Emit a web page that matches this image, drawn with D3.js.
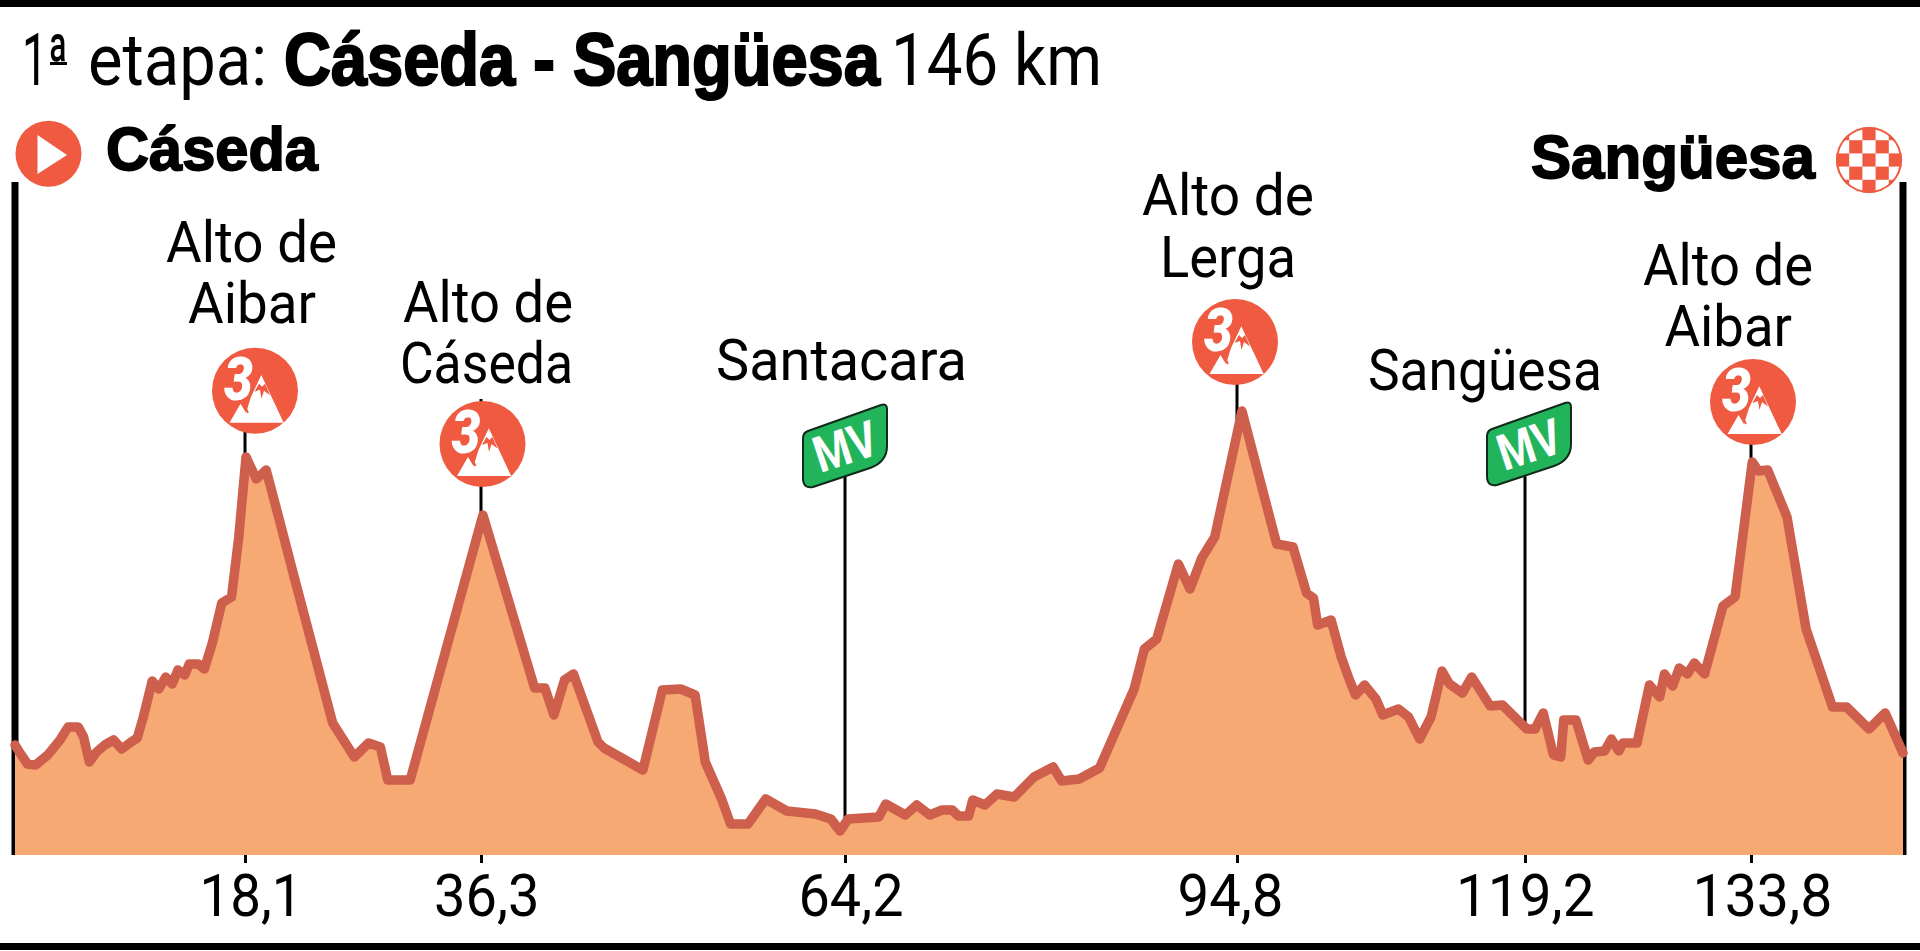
<!DOCTYPE html>
<html lang="es">
<head>
<meta charset="utf-8">
<script src="https://cdnjs.cloudflare.com/ajax/libs/d3/7.8.5/d3.min.js"></script>
<style>html,body{margin:0;padding:0;background:#fff;overflow:hidden}svg{display:block}text{font-family:Roboto,"Liberation Sans",sans-serif}</style>
</head>
<body>
<script>
// ---------- data ----------
const distanceKm = [0,0.5,0.98,1.62,2.58,3.54,4.18,4.98,5.4,5.85,6.42,7.06,7.76,8.4,9.14,9.62,10.1,10.8,11.32,11.86,12.37,12.82,13.36,13.71,14.42,14.9,15.53,16.27,17.04,17.61,18.18,18.97,19.73,20.61,21.87,23.44,24.86,26.53,27.63,28.54,29.11,30.84,36.45,40.41,41.2,41.89,42.7,43.39,45.27,45.73,48.71,50.2,51.61,52.71,53.49,54.74,55.43,56.77,58.12,59.74,61.93,63.12,63.82,64.45,66.84,67.38,68.91,69.8,70.82,71.77,72.57,73.05,73.85,74.17,75.12,76.07,77.41,78.95,80.45,81.11,82.48,84.07,86.77,87.57,88.53,90.22,91.13,92.05,93.06,95.22,98.16,99.55,100.69,101.28,101.63,102.77,103.63,104.33,104.84,105.61,106.57,107.16,108.48,109.34,110.27,111.24,112.17,112.8,113.9,114.69,116.25,117.28,119.32,119.85,120.38,121.04,121.51,121.7,122.49,123.28,123.68,124.34,124.78,125.26,125.52,126.44,127.24,127.9,128.21,128.74,129.16,129.69,130.14,130.8,131.99,132.77,133.9,134.39,135.14,136.69,138.22,140.34,141.47,143.27,144.57,146];
const elevation = [110,100,91,90,100,115,128,128,118,93,103,110,115,106,113,117,138,174,166,178,171,185,180,191,191,186,212,252,258,318,398,376,385,342,279,202,132,98,112,108,75,75,340,167,167,140,175,181,113,107,85,165,166,160,93,56,31,31,56,44,41,36,24,36,38,51,40,50,40,45,45,39,39,55,50,61,58,78,88,74,76,87,166,206,216,291,266,297,318,444,311,308,262,257,230,235,198,175,160,170,156,140,146,138,116,138,184,171,162,178,149,150,126,126,142,100,98,135,135,95,103,104,116,104,112,112,170,158,181,169,187,181,192,181,249,258,393,384,385,338,226,148,148,126,142,102];
const markedKm = [18.1,36.3,64.2,94.8,119.2,133.8];
const markedLabels = ["18,1","36,3","64,2","94,8","119,2","133,8"];
const climbKm = [18.1,36.3,94.8,133.8];
const climbNames = [["Alto de","Aibar"],["Alto de","Cáseda"],["Alto de","Lerga"],["Alto de","Aibar"]];
const climbCategory = ["3","3","3","3"];
const sprintKm = [64.2,119.2];
const sprintNames = ["Santacara","Sangüesa"];
const titleParts = ["1ª","etapa:","Cáseda - Sangüesa","146 km"];
const startName = "Cáseda";
const finishName = "Sangüesa";

// ---------- layout ----------
const W=1920,H=951,base=855;
const C={fill:"#f7a974",line:"#cd5f4c",red:"#ef5a41",green:"#22b45b",ink:"#000"};
const BOLD='"Liberation Sans Narrow","Liberation Sans",sans-serif';
const svg=d3.select("body").append("svg").attr("width",W).attr("height",H);
const x=d3.scaleLinear().domain([0,...markedKm,146]).range([15,245,481,845,1237,1525,1751,1903]);
const y=d3.scaleLinear().domain([0,500]).range([base,355]);
const pts=distanceKm.map((d,i)=>[d,elevation[i]]);

// place a text so that it fills [left,right] by horizontal scaling
function label(t,left,right,baseline,size,weight,extra){
  const e=svg.append("text").attr("font-size",size).attr("font-weight",weight).attr("fill",C.ink).text(t);
  if(extra)e.attr("stroke",C.ink).attr("stroke-width",extra).style("font-family",BOLD);
  const sx=(right-left)/e.node().getComputedTextLength();
  e.attr("transform",`translate(${left},${baseline}) scale(${sx},1)`);
  return e;
}
// frame bars
svg.append("rect").attr("x",0).attr("y",0).attr("width",W).attr("height",7).attr("fill",C.ink);
svg.append("rect").attr("x",0).attr("y",943).attr("width",W).attr("height",7).attr("fill",C.ink);

// title
label(titleParts[0],22,68,85,72,400);
svg.append("rect").attr("x",50).attr("y",62).attr("width",17).attr("height",3).attr("fill",C.ink);
label(titleParts[1],88,267,85,72,400);
label(titleParts[2],284,880,85,74,700,2.2);
label(titleParts[3],891,1102,85,72,400);

// start / finish posts
[15,1903].forEach(px=>svg.append("line").attr("x1",px).attr("x2",px).attr("y1",182).attr("y2",base).attr("stroke",C.ink).attr("stroke-width",7));

// leaders
const leaderTop=[400,399,340,402];
climbKm.forEach((k,i)=>svg.append("line").attr("x1",x(k)).attr("x2",x(k)).attr("y1",leaderTop[i]).attr("y2",base).attr("stroke",C.ink).attr("stroke-width",3));
const signTop=[470,468];
sprintKm.forEach((k,i)=>svg.append("line").attr("x1",x(k)).attr("x2",x(k)).attr("y1",signTop[i]).attr("y2",base).attr("stroke",C.ink).attr("stroke-width",3));

// profile
svg.append("path").datum(pts).attr("fill",C.fill)
  .attr("d",d3.area().x(d=>x(d[0])).y0(base).y1(d=>y(d[1])));
svg.append("path").datum(pts).attr("fill","none").attr("stroke",C.line).attr("stroke-width",9.5)
  .attr("stroke-linejoin","round").attr("stroke-linecap","round")
  .attr("d",d3.line().x(d=>x(d[0])).y(d=>y(d[1])));

// axis
const axis=d3.axisBottom(x).tickValues(markedKm).tickSize(8).tickSizeOuter(0).tickPadding(0).tickFormat((d,i)=>markedLabels[i]);
const ag=svg.append("g").attr("transform",`translate(0,${base})`).call(axis);
ag.select(".domain").remove();
ag.selectAll(".tick line").attr("stroke",C.ink).attr("stroke-width",3);
const tickBox=[[199,302],[433.5,539],[798,903],[1177,1283],[1455.5,1594],[1692,1832]];
ag.selectAll(".tick text").each(function(d,i){
  d3.select(this).attr("font-size",60).attr("fill",C.ink).attr("font-family",'Roboto,"Liberation Sans",sans-serif')
   .attr("text-anchor","start").attr("x",tickBox[i][0]-x(d)).attr("dy",0).attr("y",61)
   .attr("textLength",tickBox[i][1]-tickBox[i][0]).attr("lengthAdjust","spacingAndGlyphs");
});

// climb labels: one text per climb, one tspan per line
const climbBox=[[[166,337,262],[188,316,323]],[[403,573,322],[400,573,383]],[[1142,1314,215],[1160,1296,277]],[[1643,1813,285],[1664.5,1792,346]]];
climbNames.forEach((ls,i)=>{
  const t=svg.append("text").attr("font-size",58).attr("fill",C.ink);
  ls.forEach((s,j)=>{const b=climbBox[i][j];
    t.append("tspan").attr("x",b[0]).attr("y",b[2]).attr("textLength",b[1]-b[0]).attr("lengthAdjust","spacingAndGlyphs").text(s);});
});

// climb badges
const badgeC=[[255,390.7],[482.5,444],[1235,342],[1753,402]];
climbKm.forEach((k,i)=>{
  const g=svg.append("g").attr("transform",`translate(${badgeC[i][0]},${badgeC[i][1]})`);
  g.append("circle").attr("r",43).attr("fill",C.red);
  g.append("path").attr("fill","#fff").attr("d","M-25.5,32 L-14.5,13 L-9,22 L-4,6 L6.3,-15.7 L28.7,32 Z");
  g.append("path").attr("fill",C.red).attr("d","M4,-7 L-0.5,1 L5,-1 L6.5,8 L9,0 L15,4.5 L10,-7 L7,-4 Z");
  g.append("path").attr("fill","none").attr("stroke",C.red).attr("stroke-width",2).attr("d","M-12,12 L-7,22");
  g.append("text").attr("x",-31).attr("y",9).attr("font-size",60).attr("font-weight",900).attr("font-style","italic")
    .attr("fill","#fff").attr("textLength",29).attr("lengthAdjust","spacingAndGlyphs").attr("stroke",C.red).attr("stroke-width",3).attr("paint-order","stroke").text(climbCategory[i]);
});

// sprint labels and signs
const sprintBox=[[716,967,380],[1368,1602,390]];
sprintNames.forEach((t,i)=>label(t,sprintBox[i][0],sprintBox[i][1],sprintBox[i][2],58,400));
const signOffset=[[0,0],[684,-2]];
sprintKm.forEach((k,i)=>{
  const g=svg.append("g").attr("transform",`translate(${signOffset[i][0]},${signOffset[i][1]})`);
  g.append("path").attr("fill",C.green).attr("stroke","#10291a").attr("stroke-width",2)
   .attr("d","M803,438 Q803,433 808,431 L881,405 Q887,403 887,409 L887,446 Q887,462 870,468 L813,487 Q803,489 803,478 Z");
  g.append("text").attr("transform","translate(845,446) rotate(-18)").attr("text-anchor","middle").attr("y",18)
   .attr("font-size",50).attr("font-weight",700).attr("fill","#fff").attr("textLength",64).attr("lengthAdjust","spacingAndGlyphs").text("MV");
});

// start heading
label(startName,106,318,170,62,700,1.8);
svg.append("circle").attr("cx",48.5).attr("cy",153.7).attr("r",33).attr("fill",C.red);
svg.append("path").attr("fill","#fff").attr("d","M37.5,135 L67,155 L37.5,174 Z");

// finish heading
label(finishName,1531,1815,178,62,700,1.8);
const fg=svg.append("g").attr("transform","translate(1869,160)");
const defs=svg.append("defs");
defs.append("clipPath").attr("id","fc").append("circle").attr("r",33);
fg.append("circle").attr("r",33).attr("fill","#fff");
const cells=d3.range(-3,3).flatMap(r=>d3.range(-3,3).map(c=>[r,c]));
fg.append("g").attr("clip-path","url(#fc)").selectAll("rect").data(cells.filter(d=>(d[0]+d[1]+6)%2===0)).join("rect")
  .attr("x",d=>d[1]*13.2+6.6).attr("y",d=>d[0]*13.2+6.6).attr("width",13.2).attr("height",13.2).attr("fill",C.red);
fg.append("circle").attr("r",32).attr("fill","none").attr("stroke",C.red).attr("stroke-width",2);
</script>
</body>
</html>
